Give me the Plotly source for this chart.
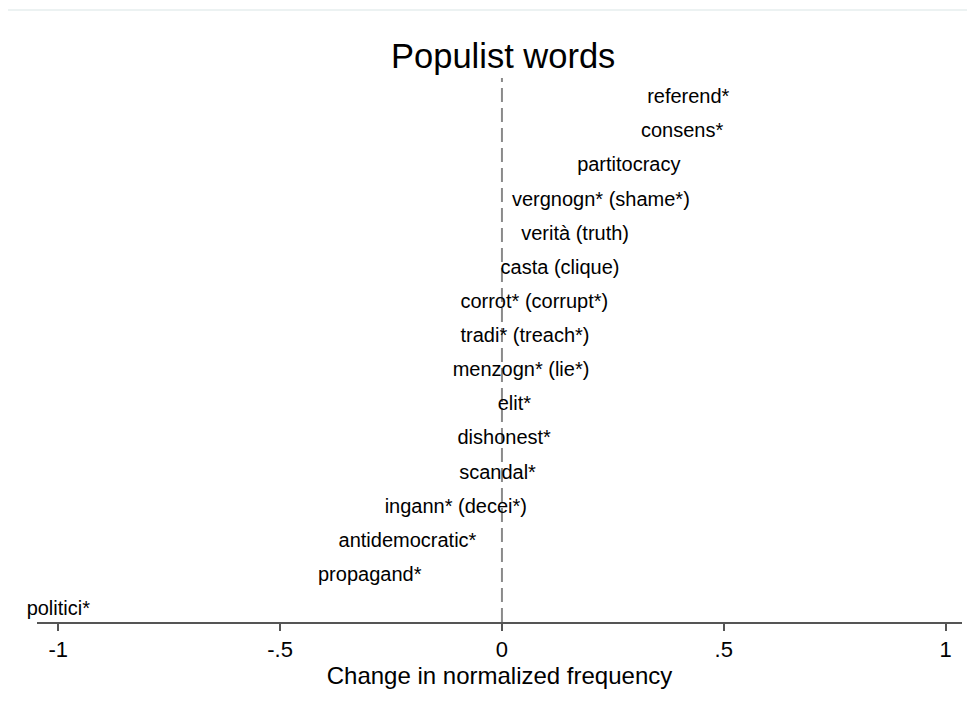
import plotly.graph_objects as go

words = ["politici*", "propagand*", "antidemocratic*", "ingann* (decei*)", "scandal*",
         "dishonest*", "elit*", "menzogn* (lie*)", "tradi* (treach*)", "corrot* (corrupt*)",
         "casta (clique)", "verità (truth)", "vergnogn* (shame*)", "partitocracy",
         "consens*", "referend*"]
change = [-1.0, -0.298, -0.213, -0.104, -0.010, 0.005, 0.028, 0.043, 0.052, 0.073,
          0.131, 0.165, 0.223, 0.286, 0.406, 0.420]
rank = list(range(1, len(words) + 1))
tick_vals = [-1, -0.5, 0, 0.5, 1]
tick_text = ["-1", "-.5", "0", ".5", "1"]

FONT = "Arial, Liberation Sans, sans-serif"
W, H = 967, 707

fig = go.Figure()
fig.add_trace(go.Scatter(
    x=change, y=rank, mode="text", text=words, textposition="middle center",
    textfont=dict(family=FONT, size=20, color="black"), showlegend=False,
    cliponaxis=False, hoverinfo="skip"))

fig.add_shape(type="line", xref="x", yref="paper", x0=0, x1=0, y0=0, y1=1,
              line=dict(color="#8a8a8a", width=2, dash="14px,6px"), layer="below")
fig.add_shape(type="line", xref="paper", yref="paper", x0=-0.0335, x1=1.02,
              y0=1.125, y1=1.125, line=dict(color="#e6eeee", width=1.5))

fig.update_layout(
    width=W, height=H,
    margin=dict(l=29, r=13, t=70, b=93),
    paper_bgcolor="white", plot_bgcolor="white",
    title=dict(text="Populist words", x=0.504, xref="paper", xanchor="center",
               y=1 - 48/H, yanchor="middle", yref="container",
               font=dict(family=FONT, size=34.5, color="black")),
    xaxis=dict(range=[-1.048, 1.037], tickvals=tick_vals, ticktext=tick_text,
               showgrid=False, zeroline=False, showline=True, linecolor="#555555",
               linewidth=2, ticks="outside", ticklen=7, tickwidth=1.5, tickcolor="#555555",
               tickfont=dict(family=FONT, size=22, color="black"),
               title=dict(text="Change in normalized frequency", standoff=2,
                          font=dict(family=FONT, size=24, color="black"))),
    yaxis=dict(range=[0.65, 16.59], visible=False, showgrid=False, zeroline=False),
)

fig.write_html("out.html")
